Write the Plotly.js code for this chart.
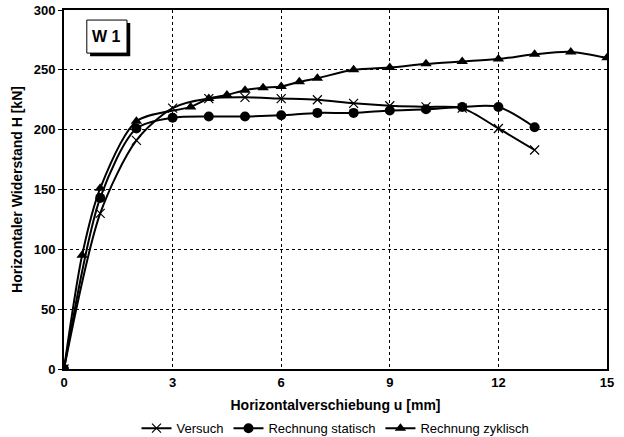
<!DOCTYPE html>
<html>
<head>
<meta charset="utf-8">
<script src="https://cdn.plot.ly/plotly-3.0.1.min.js"></script>
<style>html,body{margin:0;padding:0;background:#fff;}#chart{width:624px;height:437px;}</style>
</head>
<body>
<div id="chart"></div>
<script>
const versuchX = [0, 1, 2, 3, 4, 5, 6, 7, 8, 9, 10, 11, 12, 13];
const versuchY = [0, 130, 191, 218, 226, 227, 226, 225, 222, 220, 219, 218, 201, 183];
const statischX = [0, 1, 2, 3, 4, 5, 6, 7, 8, 9, 10, 11, 12, 13];
const statischY = [0, 143, 201, 210, 211, 211, 212, 214, 214, 216, 217, 219, 219, 202];
const zyklischX = [0, 0.5, 1, 2, 3.5, 4, 4.5, 5, 5.5, 6, 6.5, 7, 8, 9, 10, 11, 12, 13, 14, 15];
const zyklischY = [0, 95, 151, 207, 219, 226, 229, 233, 235, 236, 240, 243, 250, 252, 255, 257, 259, 263, 265, 260];
const xTicks = [0, 3, 6, 9, 12, 15];
const yTicks = [0, 50, 100, 150, 200, 250, 300];

const font = "Arial, 'Liberation Sans', sans-serif";
const lineStyle = {color: '#000', width: 2, shape: 'spline', smoothing: 0.8};

const traces = [
  {x: versuchX, y: versuchY, name: 'Versuch', mode: 'lines+markers', line: lineStyle,
   marker: {symbol: 'x-thin', size: 9, color: '#000', line: {color: '#000', width: 1.2}}},
  {x: statischX, y: statischY, name: 'Rechnung statisch', mode: 'lines+markers', line: lineStyle,
   marker: {symbol: 'circle', size: 10, color: '#000'}},
  {x: zyklischX, y: zyklischY, name: 'Rechnung zyklisch', mode: 'lines+markers', line: lineStyle,
   marker: {symbol: 'triangle-up', size: 10, color: '#000'}}
];

const layout = {
  width: 624, height: 437,
  margin: {l: 64, r: 17, t: 10, b: 68, autoexpand: false},
  paper_bgcolor: '#fff', plot_bgcolor: '#fff',
  font: {family: font, color: '#000', size: 12},
  showlegend: true,
  legend: {orientation: 'h', x: 0.5, xanchor: 'center', y: -0.165, yanchor: 'middle',
           font: {family: font, size: 13, color: '#000'}, traceorder: 'normal', itemwidth: 30,
           tracegroupgap: 0},
  xaxis: {
    range: [0, 15], tickvals: xTicks, ticktext: xTicks.map(String),
    showgrid: true, gridcolor: '#000', gridwidth: 1, griddash: 'dot',
    showline: true, linecolor: '#000', linewidth: 2, mirror: true,
    zeroline: false, ticks: '', ticklen: 0, automargin: false,
    tickfont: {family: font, size: 13, color: '#000', weight: 'bold'},
    title: {text: '<b>Horizontalverschiebung u [mm]</b>', font: {family: font, size: 14, color: '#000'}, standoff: 12}
  },
  yaxis: {
    range: [0, 300], tickvals: yTicks, ticktext: yTicks.map(String),
    showgrid: true, gridcolor: '#000', gridwidth: 1, griddash: 'dot',
    showline: true, linecolor: '#000', linewidth: 2, mirror: true,
    zeroline: false, ticks: 'outside', ticklen: 4, tickcolor: '#000', tickwidth: 1, automargin: false,
    tickfont: {family: font, size: 13, color: '#000', weight: 'bold'},
    title: {text: '<b>Horizontaler Widerstand H [kN]</b>', font: {family: font, size: 14, color: '#000'}, standoff: 8}
  },
  shapes: [
    {type: 'rect', xref: 'paper', yref: 'paper', x0: 0.048, x1: 0.122, y0: 0.871, y1: 0.964,
     fillcolor: '#000', line: {width: 0}},
    {type: 'rect', xref: 'paper', yref: 'paper', x0: 0.042, x1: 0.116, y0: 0.880, y1: 0.972,
     fillcolor: '#fff', line: {color: '#000', width: 1}}
  ],
  annotations: [
    {xref: 'paper', yref: 'paper', x: 0.079, y: 0.926, xanchor: 'center', yanchor: 'middle',
     text: '<b>W 1</b>', showarrow: false, font: {family: font, size: 16, color: '#000'}}
  ]
};

Plotly.newPlot('chart', traces, layout, {displayModeBar: false, staticPlot: true});
</script>
</body>
</html>
